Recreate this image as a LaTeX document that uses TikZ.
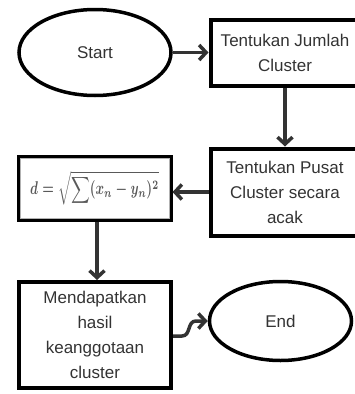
\documentclass[tikz,border=0pt]{standalone}
\usepackage{graphicx}
\usepackage{fontspec}
\setmainfont{Liberation Sans}
\usetikzlibrary{arrows.meta,shapes.geometric}
\definecolor{txt}{HTML}{333333}
\definecolor{arr}{HTML}{333333}
\newcommand{\dformula}{{\normalsize\color{black!65}\scalebox{1.3}[1.85]{\boldmath$\displaystyle d=\sqrt{\sum (x_n-y_n)^2}$}}}
\begin{document}
\begin{tikzpicture}[x=1pt,y=-1pt,
  every node/.style={font=\fontsize{17}{25}\selectfont, text=txt, align=center, inner sep=0pt},
  boxnode/.style={draw=black, line width=4pt, rectangle},
  ovalnode/.style={draw=black, line width=3.5pt, ellipse},
  conn/.style={draw=arr, line width=3.5pt, -{Straight Barb[length=7pt,width=15pt,line width=3.5pt]}}]
\useasboundingbox (0,0) rectangle (355,394);
\node[ovalnode, minimum width=152pt, minimum height=86pt] (start) at (95,52.5) {Start};
\node[boxnode, minimum width=149pt, minimum height=66pt] (b1) at (285,52.5) {Tentukan Jumlah\\Cluster};
\node[boxnode, minimum width=149pt, minimum height=87pt] (b2) at (285,192) {Tentukan Pusat\\Cluster secara\\acak};
\node[boxnode, minimum width=152pt, minimum height=63pt] (form) at (94.5,188) {\dformula};
\draw[black!30, line width=0.7pt] ([xshift=3.5pt,yshift=-3.5pt]form.north west) rectangle ([xshift=-3.5pt,yshift=3.5pt]form.south east);
\node[boxnode, minimum width=152pt, minimum height=106pt] (b3) at (95,335) {Mendapatkan\\hasil\\keanggotaan\\cluster};
\node[ovalnode, minimum width=142pt, minimum height=79pt] (end) at (280.5,321) {End};
\coordinate (k1) at (182,336);
\coordinate (k2) at (196,321);
\draw[conn] (start) -- (b1);
\draw[conn] (b1) -- (b2);
\draw[conn] (b2.west) -- ([yshift=-4pt]form.east);
\draw[conn] ([xshift=2.5pt]form.south) -- ([xshift=2pt]b3.north);
\draw[conn] ([yshift=-1pt]b3.east) -- (k1) .. controls (191,336) and (187,321) .. (k2) -- (end.west);
\end{tikzpicture}
\end{document}
